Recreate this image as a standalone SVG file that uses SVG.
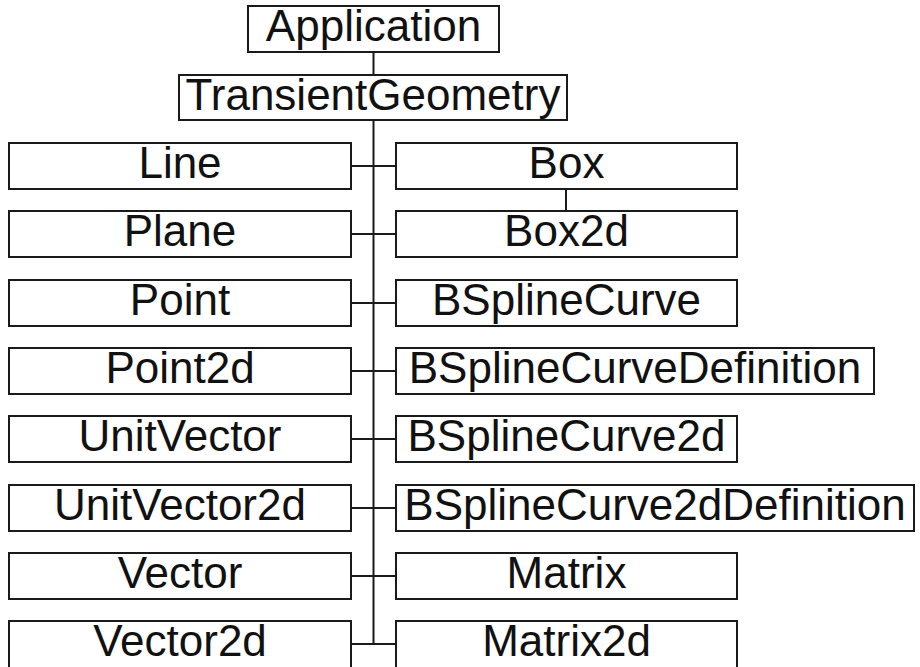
<svg xmlns="http://www.w3.org/2000/svg" width="920" height="667" viewBox="0 0 920 667">
<style>
rect{fill:#fff;stroke:#1a1a1a;stroke-width:2}
text{font-family:"Liberation Sans",Arial,sans-serif;font-size:44px;fill:#111;text-anchor:middle}
.c{stroke:#1a1a1a;stroke-width:2;fill:none}
</style>
<rect x="0" y="0" width="920" height="667" style="fill:#fff;stroke:none"/>
<g id="connectors">
<path class="c" d="M373.5 52V75M373.5 120V644"/>
<path class="c" d="M351 166H396M351 234H396M351 303H396M351 371H396M351 439H396M351 508H396M351 576H396M351 644H396"/>
<path class="c" d="M566 189V211"/>
</g>
<g id="application"><rect x="248" y="6" width="251" height="46"/><text x="373.5" y="41">Application</text></g>
<g id="transientgeometry"><rect x="179" y="75" width="388" height="45"/><text x="373" y="110">TransientGeometry</text></g>
<g id="line"><rect x="9" y="143" width="342" height="46"/><text x="180" y="178">Line</text></g>
<g id="plane"><rect x="9" y="211" width="342" height="46"/><text x="180" y="246">Plane</text></g>
<g id="point"><rect x="9" y="280" width="342" height="46"/><text x="180" y="315">Point</text></g>
<g id="point2d"><rect x="9" y="348" width="342" height="46"/><text x="180" y="383">Point2d</text></g>
<g id="unitvector"><rect x="9" y="416" width="342" height="46"/><text x="180" y="451">UnitVector</text></g>
<g id="unitvector2d"><rect x="9" y="485" width="342" height="46"/><text x="180" y="520">UnitVector2d</text></g>
<g id="vector"><rect x="9" y="553" width="342" height="46"/><text x="180" y="588">Vector</text></g>
<g id="vector2d"><rect x="9" y="621" width="342" height="49"/><text x="180" y="656">Vector2d</text></g>
<g id="box"><rect x="396" y="143" width="341" height="46"/><text x="566.5" y="178">Box</text></g>
<g id="box2d"><rect x="396" y="211" width="341" height="46"/><text x="566.5" y="246">Box2d</text></g>
<g id="bsplinecurve"><rect x="396" y="280" width="341" height="46"/><text x="566.5" y="315">BSplineCurve</text></g>
<g id="bsplinecurvedefinition"><rect x="396" y="348" width="478" height="46"/><text x="635" y="383">BSplineCurveDefinition</text></g>
<g id="bsplinecurve2d"><rect x="396" y="416" width="341" height="46"/><text x="566.5" y="451">BSplineCurve2d</text></g>
<g id="bsplinecurve2ddefinition"><rect x="396" y="485" width="518" height="46"/><text x="655" y="520">BSplineCurve2dDefinition</text></g>
<g id="matrix"><rect x="396" y="553" width="341" height="46"/><text x="566.5" y="588">Matrix</text></g>
<g id="matrix2d"><rect x="396" y="621" width="341" height="49"/><text x="566.5" y="656">Matrix2d</text></g>
</svg>
